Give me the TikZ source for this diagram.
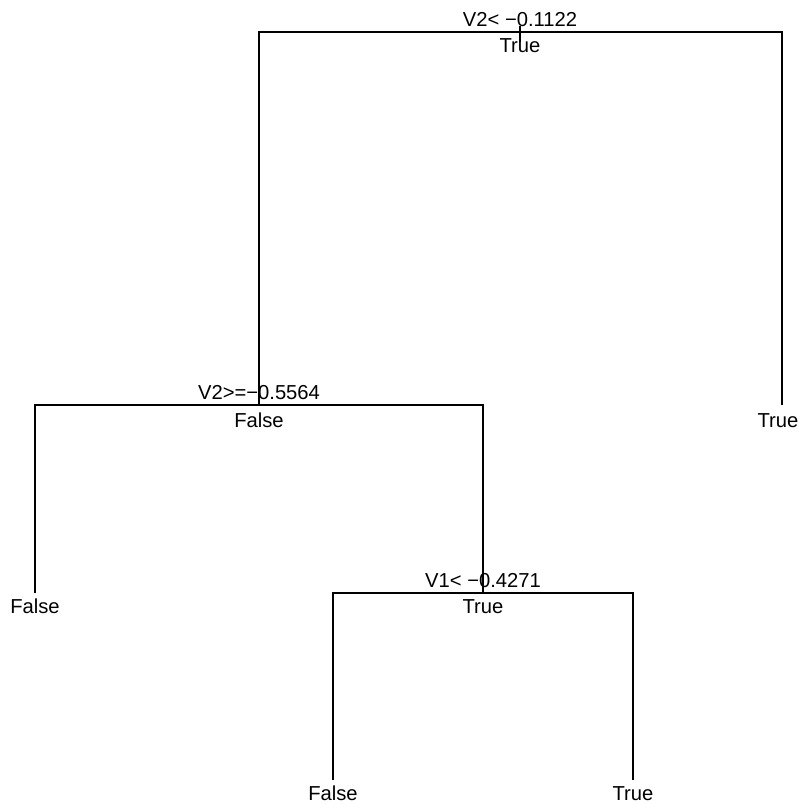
\documentclass[tikz,border=0pt]{standalone}
\usepackage{fontspec}
\setmainfont{Liberation Sans}
\begin{document}
\begin{tikzpicture}[x=1pt,y=-1pt,
  branch/.style={draw=black,line width=1.5pt},
  lbl/.style={anchor=base,inner sep=0pt,font=\fontsize{20.2}{24}\selectfont}]
\useasboundingbox (0,0) rectangle (799,804);
% split points
\coordinate (n1) at (520,32);
\coordinate (n1top) at (520,26);
\coordinate (n1bot) at (520,42);
\coordinate (n2) at (259,405);
\coordinate (n3) at (483,593);
\coordinate (lA) at (35,593);
\coordinate (lR) at (782,405);
\coordinate (lB) at (333,780);
\coordinate (lC) at (633,780);
% labels
\node[lbl] (t1) at (520,26) {V2< −0.1122};
\node[lbl] (b1) at (520,52) {True};
\node[lbl] (t2) at (259,399) {V2>=−0.5564};
\node[lbl] (b2) at (259,427) {False};
\node[lbl] (t3) at (483,587) {V1< −0.4271};
\node[lbl] (b3) at (483,613) {True};
\node[lbl] (fA) at (35,613) {False};
\node[lbl] (fR) at (778,427) {True};
\node[lbl] (fB) at (333,800) {False};
\node[lbl] (fC) at (633,800) {True};
% branches
\draw[branch] (n1top) -- (n1bot);
\draw[branch] (n2) |- (n1) -| (lR);
\draw[branch] (lA) |- (n2) -| (n3);
\draw[branch] (lB) |- (n3) -| (lC);
\end{tikzpicture}
\end{document}
